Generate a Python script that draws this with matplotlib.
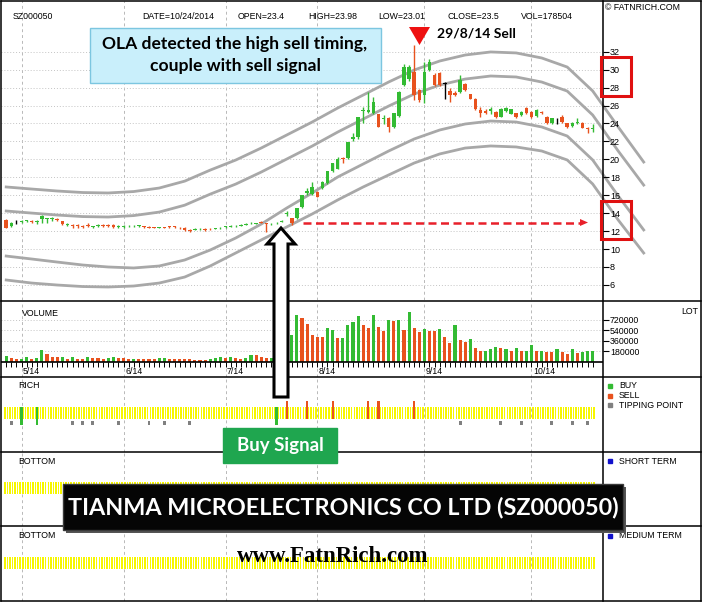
import numpy as np
import matplotlib.pyplot as plt
from matplotlib.patches import Rectangle, Polygon
from matplotlib.lines import Line2D

plt.rcParams['font.family'] = ['Liberation Sans', 'DejaVu Sans']

W, H = 702, 602

# ==================== Data ====================
opens = [13.25, 12.6, 13.0, 13.0, 13.1, 13.15, 13.05, 13.35, 13.35, 13.4,
         13.35, 13.1, 12.65, 12.7, 12.65, 12.6, 12.7, 12.45, 12.6, 12.7,
         12.7, 12.7, 12.5, 12.5, 12.55, 12.55, 12.6, 12.5, 12.45, 12.45,
         12.4, 12.45, 12.5, 12.5, 12.4, 12.4, 12.1, 12.15, 12.2, 12.25,
         12.25, 12.25, 12.3, 12.45, 12.5, 12.55, 12.62, 12.7, 12.85, 12.8,
         13.0, 12.9, 12.75, 12.85, 13.05, 13.9, 13.42, 13.42, 14.72, 16.2,
         16.14, 16.4, 16.77, 17.4, 18.74, 18.96, 20.1, 20.11, 22.3, 22.45,
         25.4, 25.3, 25.2, 25.0, 24.5, 24.65, 23.64, 24.83, 28.29, 28.9,
         29.77, 27.73, 27.17, 29.96, 29.4, 29.59, 28.45, 27.62, 27.43, 27.54,
         28.4, 27.25, 26.73, 25.5, 25.43, 25.43, 25.31, 24.76, 25.43, 25.06,
         25.13, 24.94, 25.69, 25.31, 24.83, 25.31, 24.76, 24.01, 24.57, 24.68,
         24.01, 23.72, 24.09, 24.09, 23.5, 23.4]
highs = [13.3, 13.0, 13.2, 13.2, 13.25, 13.2, 13.25, 13.75, 13.45, 13.55,
         13.45, 13.15, 12.85, 12.8, 12.75, 12.7, 12.85, 12.55, 12.8, 12.8,
         12.8, 12.75, 12.65, 12.65, 12.65, 12.7, 12.7, 12.6, 12.55, 12.5,
         12.5, 12.5, 12.55, 12.55, 12.45, 12.45, 12.2, 12.3, 12.3, 12.3,
         12.35, 12.4, 12.45, 12.6, 12.65, 12.7, 12.75, 12.9, 13.0, 12.95,
         13.1, 12.95, 12.9, 13.0, 13.25, 14.28, 13.5, 14.6, 16.0, 16.8,
         17.51, 16.5, 17.6, 18.75, 19.6, 20.3, 20.3, 21.9, 22.9, 24.68,
         25.87, 27.55, 26.99, 25.1, 24.94, 24.7, 25.2, 27.6, 30.6, 30.5,
         32.75, 27.8, 30.8, 31.15, 29.59, 29.7, 28.66, 27.92, 27.6, 29.4,
         28.5, 27.3, 26.8, 25.87, 25.6, 25.87, 25.4, 25.7, 25.87, 25.6,
         25.2, 25.4, 25.87, 25.4, 25.6, 25.4, 24.85, 24.6, 24.6, 24.94,
         24.1, 24.2, 24.57, 24.15, 23.64, 23.98]
lows = [12.3, 12.5, 12.8, 12.9, 13.0, 12.95, 12.8, 12.95, 12.9, 13.1,
        13.15, 12.7, 12.6, 12.4, 12.4, 12.35, 12.5, 12.4, 12.5, 12.5,
        12.5, 12.4, 12.4, 12.4, 12.45, 12.45, 12.5, 12.35, 12.3, 12.3,
        12.3, 12.3, 12.35, 12.35, 12.2, 12.0, 11.95, 12.1, 12.1, 12.05,
        12.1, 12.2, 12.25, 12.4, 12.45, 12.5, 12.55, 12.65, 12.8, 12.75,
        12.85, 11.94, 12.7, 12.8, 13.0, 13.72, 12.68, 13.3, 14.6, 16.0,
        16.0, 15.8, 16.7, 17.3, 18.6, 18.9, 19.56, 20.0, 22.08, 22.3,
        24.0, 25.2, 25.1, 23.64, 23.94, 23.09, 23.5, 24.7, 28.2, 28.7,
        26.6, 26.43, 26.32, 29.8, 28.2, 28.2, 26.69, 26.43, 27.1, 27.4,
        27.6, 26.7, 25.5, 24.76, 25.0, 25.1, 24.6, 24.7, 25.3, 25.0,
        24.57, 24.85, 25.1, 24.6, 24.76, 25.0, 23.9, 23.9, 23.94, 24.1,
        23.5, 23.6, 23.9, 23.5, 22.9, 23.01]
closes = [12.4, 12.95, 13.0, 13.1, 13.2, 13.05, 13.15, 13.7, 13.4, 13.45,
          13.25, 12.75, 12.75, 12.6, 12.55, 12.5, 12.6, 12.5, 12.7, 12.6,
          12.6, 12.45, 12.55, 12.55, 12.6, 12.6, 12.65, 12.45, 12.4, 12.4,
          12.45, 12.4, 12.45, 12.45, 12.3, 12.1, 12.05, 12.2, 12.25, 12.15,
          12.2, 12.3, 12.35, 12.5, 12.57, 12.62, 12.68, 12.8, 12.94, 12.88,
          12.95, 12.8, 12.8, 12.94, 13.17, 14.05, 12.87, 14.54, 15.99, 16.45,
          16.95, 15.84, 17.51, 18.7, 19.56, 20.0, 20.0, 21.9, 22.5, 24.68,
          25.5, 25.5, 26.36, 23.64, 24.6, 23.64, 25.13, 27.55, 30.33, 30.3,
          27.2, 26.62, 29.77, 30.89, 28.29, 28.29, 28.45, 27.17, 27.17, 28.85,
          27.73, 26.73, 25.58, 25.13, 25.2, 25.57, 24.68, 25.57, 25.69, 25.57,
          24.76, 25.31, 25.2, 24.68, 25.5, 25.13, 24.01, 24.57, 24.57, 24.2,
          23.57, 24.09, 24.2, 23.53, 23.42, 23.5]

volume_k = [95, 67, 55, 55, 78, 55, 67, 197, 129, 84,
            84, 84, 55, 84, 55, 55, 84, 67, 67, 55,
            72, 84, 72, 72, 55, 55, 55, 55, 55, 55,
            67, 67, 55, 55, 55, 55, 44, 27, 27, 38,
            55, 67, 84, 67, 84, 67, 55, 72, 123, 112,
            84, 72, 60, 95, 492, 299, 463, 803, 752, 650,
            469, 435, 435, 582, 548, 406, 418, 633, 678, 780,
            633, 582, 803, 593, 525, 718, 706, 718, 554, 859,
            582, 520, 565, 537, 537, 565, 423, 327, 633, 367,
            338, 384, 242, 180, 186, 225, 254, 237, 225, 186,
            237, 186, 186, 293, 186, 186, 169, 169, 214, 169,
            140, 214, 157, 169, 180, 178.5]
volume_dir = ("GRRGGRGGRR" "RGRGRRGRRR" "GGRRRGRRRR" "GGRRRRRRRR" "GGGRGRRGGR" "RR"
              "GGGRGGRRRR" "RGGRGGGGRR" "GRRGRGRGRR" "GRRGRRGRRG" "RRGGGRGRGR"
              "GGRGRRGRRG" "RGGG")

month_labels = ['5/14', '6/14', '7/14', '8/14', '9/14', '10/14']
month_index = [3, 23, 43, 61, 82, 103]
price_ticks = list(range(6, 33, 2))
vol_ticks = [180000, 360000, 540000, 720000]

# four OLA bands, read every 5 bars (last points run past the axis)
band_index = list(range(0, 126, 5))
band1 = [16.92, 16.69, 16.47, 16.30, 16.25, 16.41, 16.80, 17.57, 18.80, 19.92,
         21.26, 22.71, 24.16, 25.72, 27.17, 28.62, 29.96, 30.96, 31.63, 31.97,
         31.86, 31.30, 30.29, 27.62, 23.61, 19.70]
band2 = [14.24, 14.01, 13.79, 13.62, 13.57, 13.73, 14.12, 14.89, 16.12, 17.24,
         18.58, 20.03, 21.48, 23.04, 24.49, 25.94, 27.28, 28.28, 28.95, 29.29,
         29.18, 28.62, 27.61, 24.94, 20.93, 17.13]
band3 = [9.22, 8.89, 8.55, 8.22, 8.00, 7.89, 8.11, 8.78, 9.89, 11.23,
         12.78, 14.57, 16.25, 18.03, 19.48, 20.93, 22.27, 23.27, 23.94, 24.27,
         24.16, 23.61, 22.60, 19.93, 15.92, 12.13]
band4 = [6.55, 6.21, 5.99, 5.82, 5.77, 5.88, 6.21, 6.88, 8.11, 9.56,
         11.01, 12.46, 13.91, 15.47, 16.92, 18.26, 19.59, 20.60, 21.26, 21.49,
         21.38, 20.93, 19.93, 17.25, 13.24, 9.56]

buy_days = [3, 6, 53]
sell_days = [55, 59, 64, 71, 73, 80]
tipping_days = [1, 13, 15, 17, 22, 28, 31, 36, 89, 97, 101, 107, 111, 114]

header = [(13, 'SZ000050'), (142, 'DATE=10/24/2014'), (238, 'OPEN=23.4'),
          (308, 'HIGH=23.98'), (378, 'LOW=23.01'), (448, 'CLOSE=23.5'),
          (521, 'VOL=178504')]

GREEN = '#33bb33'
RED = '#e8521e'
YELLOW = '#f7f700'
XLIM = (-1.02, 117.02)

# ==================== Figure ====================
fig = plt.figure(figsize=(W / 100, H / 100), dpi=100)
fig.patch.set_facecolor('white')


def fxy(x, y):
    return x / W, 1 - y / H


def ftext(x, y, s, **kw):
    fig.text(x / W, 1 - y / H, s, **kw)


def panel(y0, y1):
    ax = fig.add_axes([1 / W, 1 - y1 / H, 602 / W, (y1 - y0) / H])
    ax.set_xlim(*XLIM)
    for s in ax.spines.values():
        s.set_visible(False)
    ax.set_xticks([])
    ax.set_yticks([])
    ax.patch.set_alpha(0)
    for m in month_index:
        ax.axvline(m, color='#b8b8b8', lw=0.7, ls=(0, (3, 3)), zorder=0)
    return ax


idx = np.arange(len(opens))
o, h, l, c = map(np.array, (opens, highs, lows, closes))
ccol = np.where(c > o, GREEN, np.where(c < o, RED, 'black'))

# ==================== Price panel ====================
ax = panel(1, 300)
ax.set_ylim(4.32, 37.65)
for t in price_ticks:
    ax.axhline(t, color='#c4c4c4', lw=0.7, ls=(0, (1, 2)), zorder=0)
for band in (band1, band2, band3, band4):
    ax.plot(band_index, band, color='#a8a8a8', lw=2, clip_on=False, zorder=1)
ax.vlines(idx, l, h, colors=ccol, lw=1, zorder=3)
ax.bar(idx, np.maximum(np.abs(c - o), 0.07), bottom=np.minimum(o, c), width=0.7,
       color=ccol, linewidth=0, zorder=4)
ax.yaxis.tick_right()
ax.set_yticks(price_ticks)
ax.tick_params(axis='y', direction='out', length=4, width=0.8, labelsize=6.5, pad=1)

# ==================== Volume panel ====================
axv = panel(301, 377)
axv.set_ylim(-261500, 1046000)
for t in vol_ticks:
    axv.axhline(t, color='#c4c4c4', lw=0.7, ls=(0, (1, 2)), zorder=0)
vcol = [GREEN if d == 'G' else RED for d in volume_dir]
axv.bar(idx, np.array(volume_k) * 1000, width=0.6, color=vcol, linewidth=0, zorder=3)
axv.axhline(0, color='black', lw=1.2, zorder=4)
axv.vlines(idx, -92000, 0, colors='black', lw=0.7, zorder=4)
for m, lab in zip(month_index, month_labels):
    axv.text(m + 0.3, -170000, lab, fontsize=6.3, va='center', ha='left')
axv.yaxis.tick_right()
axv.set_yticks(vol_ticks)
axv.tick_params(axis='y', direction='out', length=4, width=0.8, labelsize=6.3, pad=1)
axv.text(3, 830000, 'VOLUME', fontsize=6.3, va='center')

# ==================== RICH panel ====================
axr = panel(377, 452)
axr.set_ylim(452, 377)
stripes = np.concatenate([idx - 0.25, idx + 0.25])
axr.bar(stripes, 12.3, bottom=406.7, width=0.3, color=YELLOW, linewidth=0, zorder=2)
axr.bar(buy_days, 18.3, bottom=406.7, width=0.4, color=GREEN, linewidth=0, zorder=3)
axr.bar(sell_days, 18, bottom=401, width=0.4, color=RED, linewidth=0, zorder=3)
axr.bar(tipping_days, 3.5, bottom=421, width=0.55, color='#808080', linewidth=0, zorder=3)

# ==================== BOTTOM panels ====================
axb1 = panel(452, 526)
axb1.set_ylim(526, 452)
axb1.bar(stripes, 11.5, bottom=482, width=0.3, color=YELLOW, linewidth=0, zorder=2)
axb2 = panel(526, 601)
axb2.set_ylim(601, 526)
axb2.bar(stripes, 11.5, bottom=557, width=0.3, color=YELLOW, linewidth=0, zorder=2)

# ==================== Frame ====================
frame = [((1, 1), (701, 1)), ((1, 601), (701, 601)), ((1, 1), (1, 601)),
         ((701, 1), (701, 601)), ((603, 1), (603, 601)), ((1, 301), (701, 301)),
         ((1, 377), (701, 377)), ((1, 452), (701, 452)), ((1, 526), (701, 526))]
for (x0, y0), (x1, y1) in frame:
    a, b = fxy(x0, y0), fxy(x1, y1)
    fig.add_artist(Line2D([a[0], b[0]], [a[1], b[1]], color='black', lw=1.1,
                          transform=fig.transFigure, zorder=2))

# ==================== Labels ====================
small = dict(fontsize=6.3, va='center')
for x, s in header:
    ftext(x, 16.5, s, **small)
ftext(605, 7, '\u00a9 FATNRICH.COM', **small)
ftext(681, 311, 'LOT', **small)
ftext(18, 386, 'RICH', **small)
ftext(18, 461, 'BOTTOM', **small)
ftext(18, 536, 'BOTTOM', **small)
legend = [(386, GREEN, 'BUY'), (395.5, RED, 'SELL'), (405, '#808080', 'TIPPING POINT'),
          (461, '#1010cc', 'SHORT TERM'), (536, '#1010cc', 'MEDIUM TERM')]
for y, col, s in legend:
    fig.add_artist(Rectangle(fxy(608, y + 2), 4 / W, 4 / H, color=col,
                             transform=fig.transFigure, zorder=3))
    ftext(619, y, s, **small)


# ==================== Annotations ====================
def box(x0, y0, x1, y1, fc, ec, lw=1.0, z=5):
    fig.add_artist(Rectangle(fxy(x0, y1), (x1 - x0) / W, (y1 - y0) / H, fc=fc, ec=ec,
                             lw=lw, transform=fig.transFigure, zorder=z))


box(90, 28, 381, 83, '#c9effb', '#7cc6e0')
ftext(235, 55, 'OLA detected the high sell timing,\ncouple with sell signal',
      fontsize=12.6, fontweight='bold', family='Lato', ha='center', va='center',
      linespacing=1.4, zorder=6)

fig.add_artist(Polygon([fxy(409, 27), fxy(430, 27), fxy(419.5, 45)], closed=True,
                       fc='#ee1111', ec='none', transform=fig.transFigure, zorder=5))
ftext(437, 34, '29/8/14 Sell', fontsize=10, fontweight='bold', family='Lato',
      va='center', zorder=6)

for y0, y1 in ((57, 96), (201, 239)):
    box(601, y0, 631, y1, 'none', '#e01010', lw=2.2)

a, b = fxy(303, 222.5), fxy(580, 222.5)
fig.add_artist(Line2D([a[0], b[0]], [a[1], b[1]], color='#e8202a', lw=1.8,
                      ls=(0, (3.2, 1.8)), transform=fig.transFigure, zorder=5))
fig.add_artist(Polygon([fxy(580, 219), fxy(588, 222.5), fxy(580, 226)], closed=True,
                       fc='#e8202a', ec='none', transform=fig.transFigure, zorder=5))

fig.add_artist(Polygon([fxy(281, 228), fxy(295, 244), fxy(288, 244), fxy(288, 397),
                        fxy(274, 397), fxy(274, 244), fxy(267, 244)], closed=True,
                       fc='white', ec='black', lw=2.2, transform=fig.transFigure, zorder=5))

box(223, 428, 337, 463, '#1fa64f', '#1fa64f')
ftext(280, 446, 'Buy Signal', fontsize=13.5, fontweight='bold', family='Lato',
      color='white', ha='center', va='center', zorder=6)

box(66, 487, 626, 533, '#555555', 'none', z=5)
box(63, 484, 623, 530, '#050505', '#3a3a3a', z=5)
ftext(343, 507, 'TIANMA MICROELECTRONICS CO LTD (SZ000050)', fontsize=16.8,
      fontweight='bold', family='Lato', color='white', ha='center', va='center', zorder=6)

ftext(333, 556, 'www.FatnRich.com', fontsize=16.5, fontweight='bold',
      family='Liberation Serif', ha='center', va='center', zorder=6)

plt.savefig('out.png', dpi=100)
